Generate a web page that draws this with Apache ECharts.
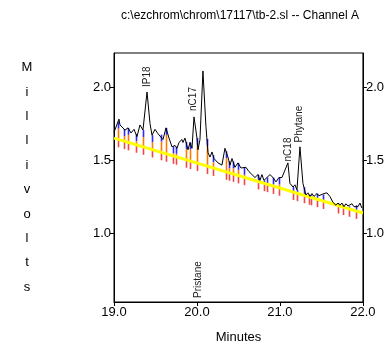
<!DOCTYPE html>
<html><head><meta charset="utf-8">
<script src="https://cdn.jsdelivr.net/npm/echarts@6/dist/echarts.min.js"></script>
<style>html,body{margin:0;padding:0;background:#fff}#c{width:387px;height:350px}</style>
</head><body><div id="c"></div>
<script>
// Trace (minutes, millivolts)
const traceTimes = [19.000,19.060,19.072,19.133,19.169,19.205,19.241,19.277,19.313,19.349,19.398,19.434,19.458,19.494,19.530,19.554,19.590,19.627,19.663,19.699,19.735,19.759,19.783,19.819,19.831,19.855,19.892,19.916,19.940,19.964,20.000,20.012,20.036,20.072,20.108,20.133,20.157,20.181,20.205,20.229,20.253,20.277,20.301,20.337,20.373,20.398,20.422,20.458,20.494,20.530,20.554,20.590,20.627,20.663,20.699,20.735,20.759,20.783,20.807,20.843,20.880,20.916,20.952,20.988,21.024,21.048,21.096,21.120,21.157,21.181,21.205,21.241,21.277,21.313,21.337,21.361,21.386,21.410,21.446,21.470,21.494,21.530,21.566,21.602,21.639,21.675,21.699,21.723,21.747,21.771,21.795,21.819,21.843,21.867,21.892,21.916,21.940,21.964,21.988];
const traceValues = [1.69,1.78,1.74,1.705,1.72,1.685,1.71,1.66,1.74,1.705,1.966,1.75,1.67,1.71,1.68,1.69,1.64,1.72,1.65,1.59,1.60,1.58,1.62,1.64,1.62,1.65,1.57,1.62,1.58,1.795,1.65,1.57,1.64,2.11,1.73,1.55,1.52,1.555,1.51,1.52,1.48,1.485,1.465,1.58,1.52,1.465,1.51,1.45,1.48,1.445,1.445,1.45,1.42,1.40,1.38,1.40,1.36,1.40,1.36,1.38,1.40,1.38,1.35,1.38,1.38,1.375,1.48,1.34,1.315,1.33,1.295,1.59,1.34,1.26,1.275,1.25,1.27,1.25,1.27,1.255,1.25,1.27,1.275,1.25,1.21,1.19,1.205,1.19,1.205,1.18,1.20,1.185,1.18,1.20,1.18,1.19,1.18,1.205,1.17];
// Baseline
const baseTimes = [19.0, 22.0];
const baseValues = [1.65, 1.137];
// Peak boundary drop lines (minutes)
const dropTimes = [19.048,19.120,19.169,19.265,19.349,19.458,19.566,19.627,19.711,19.747,19.867,19.916,20.000,20.120,20.193,20.349,20.386,20.434,20.494,20.566,20.735,20.807,20.843,20.916,20.988,21.157,21.205,21.289,21.349,21.373,21.446,21.518,21.699,21.759,21.831,21.916];
// Peak names
const peakNames = ['IP18','nC17','Pristane','nC18','Phytane'];
const peakTimes = [19.40, 19.955, 20.012, 21.096, 21.23];
const peakLabelBase = [2.0, 1.836, 0.555, 1.49, 1.62];
// Axis ticks
const xTicks = [19, 20, 21, 22];
const yTicks = [1.0, 1.5, 2.0];
const yMin = 0.527, yMax = 2.233;

function interp(xs, ys, t) {
  for (let i = 0; i < xs.length - 1; i++) {
    if (t >= xs[i] && t <= xs[i+1]) {
      const f = (t - xs[i]) / (xs[i+1] - xs[i]);
      return ys[i] + f * (ys[i+1] - ys[i]);
    }
  }
  return t < xs[0] ? ys[0] : ys[ys.length-1];
}

const FONT = 'Liberation Sans, Arial, sans-serif';
const chart = echarts.init(document.getElementById('c'), null, {renderer: 'canvas'});
const yAxisCommon = {
  type: 'value', min: yMin, max: yMax,
  axisLine: {show: true, lineStyle: {color: '#000', width: 1}},
  axisTick: {show: true, length: 4, customValues: yTicks, lineStyle: {color: '#000'}},
  axisLabel: {customValues: yTicks, formatter: v => v.toFixed(1), color: '#000', fontSize: 13, fontFamily: FONT, margin: 3},
  splitLine: {show: false}
};
chart.setOption({
  animation: false,
  backgroundColor: '#fff',
  title: {
    text: 'c:\\ezchrom\\chrom\\17117\\tb-2.sl -- Channel A',
    left: 116, top: 5,
    textStyle: {fontSize: 12, fontWeight: 'normal', color: '#000', fontFamily: FONT}
  },
  grid: {left: 114, right: 24, top: 53, bottom: 48, show: true, borderColor: '#000', borderWidth: 1, backgroundColor: 'transparent'},
  xAxis: {
    type: 'value', min: 19, max: 22, interval: 1,
    name: 'Minutes', nameLocation: 'middle', nameGap: 29,
    nameTextStyle: {fontSize: 13, color: '#000', fontFamily: FONT},
    axisLine: {show: true, onZero: false, lineStyle: {color: '#000'}},
    axisTick: {show: true, length: 4, lineStyle: {color: '#000'}},
    axisLabel: {formatter: v => v.toFixed(1), color: '#000', fontSize: 13, fontFamily: FONT, margin: 4},
    splitLine: {show: false}
  },
  yAxis: [
    Object.assign({}, yAxisCommon, {
      position: 'left',
      name: 'M\ni\nl\nl\ni\nv\no\nl\nt\ns', nameLocation: 'middle', nameRotate: 0, nameGap: 87,
      nameTextStyle: {fontSize: 13, color: '#000', fontFamily: FONT, lineHeight: 24.4, align: 'center', verticalAlign: 'middle'}
    }),
    Object.assign({}, yAxisCommon, {position: 'right'})
  ],
  series: [
    {
      type: 'custom', z: 1,
      data: dropTimes.map(t => [t, interp(traceTimes, traceValues, t)]),
      renderItem: function (params, api) {
        const t = api.value(0), top = api.value(1);
        const base = interp(baseTimes, baseValues, t);
        const pTop = api.coord([t, top]);
        const pBase = api.coord([t, base]);
        const pBot = api.coord([t, base - 0.055]);
        const blueEnd = Math.min(pTop[1] + 7, pBase[1]);
        const x = Math.round(pTop[0]) + 0.5;
        return {type: 'group', children: [
          {type: 'line', shape: {x1: x, y1: pTop[1], x2: x, y2: blueEnd}, style: {stroke: '#2b2bff', lineWidth: 1.6}},
          {type: 'line', shape: {x1: x, y1: blueEnd, x2: x, y2: pBase[1]}, style: {stroke: '#ff7800', lineWidth: 1.6}},
          {type: 'line', shape: {x1: x, y1: pBase[1], x2: x, y2: pBot[1]}, style: {stroke: '#f04848', lineWidth: 1.6}}
        ]};
      }
    },
    {
      type: 'line', z: 2, symbol: 'none',
      data: baseTimes.map((t, i) => [t, baseValues[i]]),
      lineStyle: {color: '#ffff00', width: 3}
    },
    {
      type: 'line', z: 3, symbol: 'none',
      data: traceTimes.map((t, i) => [t, traceValues[i]]),
      lineStyle: {color: '#000', width: 1}
    },
    {
      type: 'custom', z: 4,
      data: peakNames.map((n, i) => [peakTimes[i], peakLabelBase[i], n]),
      renderItem: function (params, api) {
        const p = api.coord([api.value(0), api.value(1)]);
        return {type: 'text', x: p[0], y: p[1], rotation: Math.PI / 2,
          style: {text: peakNames[params.dataIndex], fontSize: 10, fontFamily: FONT, fill: '#222', align: 'left', verticalAlign: 'middle'}};
      }
    }
  ]
});
</script></body></html>
